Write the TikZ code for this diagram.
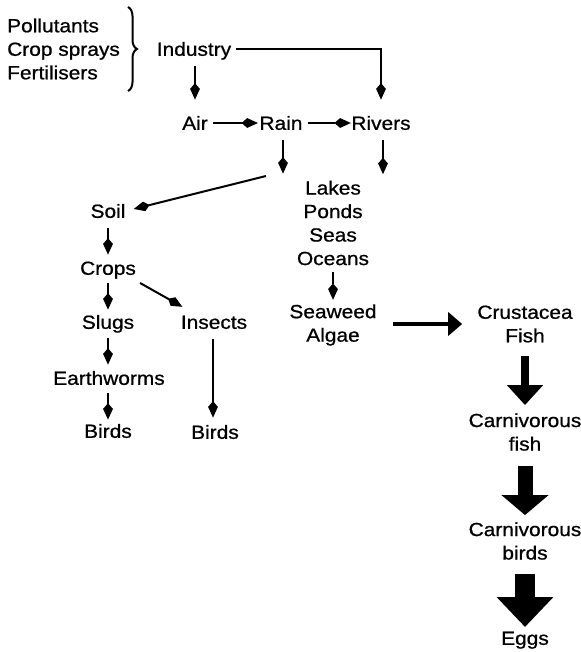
\documentclass[tikz,border=0pt]{standalone}
\usepackage{fontspec}
\setmainfont{Liberation Sans}[FakeStretch=1.1,FakeBold=0.8]
\usetikzlibrary{arrows.meta,decorations.pathreplacing,calc}
\begin{document}
\begin{tikzpicture}[x=1pt,y=-1pt,
  lbl/.style={inner sep=0pt, text height=13.6pt, text depth=0pt, font=\fontsize{19}{23.5}\selectfont},
  blk/.style={inner sep=0pt, align=center, font=\fontsize{19}{23.5}\selectfont},
  thinarr/.style={line width=2pt, -{Stealth[length=11pt,width=8.5pt,inset=-6pt]}},
  bigarr/.style args={#1/#2/#3}{line width=#1, -{Triangle[length=#3,width=#2]}}
]
\useasboundingbox (0,0) rectangle (580,652);

% nodes
\node[blk, align=left, anchor=west] (src) at (7,49) {Pollutants\\Crop sprays\\Fertilisers};
\coordinate (bt) at (128,7);
\coordinate (bb) at (128,91);
\node[lbl] (ind) at (194,49) {Industry};
\node[lbl] (air) at (195,123) {Air};
\node[lbl] (rain) at (281,123) {Rain};
\node[lbl] (riv) at (381,123) {Rivers};
\node[blk] (lakes) at (333,223) {Lakes\\Ponds\\Seas\\Oceans};
\node[blk] (sea) at (333,325) {Seaweed\\Algae};
\node[lbl] (soil) at (108,211) {Soil};
\node[lbl] (crops) at (108,268) {Crops};
\node[lbl] (slugs) at (108,322) {Slugs};
\node[lbl] (ins) at (214,322) {Insects};
\node[lbl] (worms) at (109,378) {Earthworms};
\node[lbl] (b1) at (108,431) {Birds};
\node[lbl] (b2) at (215,432) {Birds};
\node[blk] (crus) at (525,324) {Crustacea\\Fish};
\node[blk] (cfish) at (525,432) {Carnivorous\\fish};
\node[blk] (cbirds) at (525,541) {Carnivorous\\birds};
\node[lbl] (eggs) at (525,638) {Eggs};
\coordinate (rd) at (283,174);
\coordinate (rs) at (266,176);

% brace
\draw[line width=2pt, decorate, decoration={brace, amplitude=9pt}] (bt) -- (bb);

% thin connectors
\draw[thinarr, shorten <=10pt, shorten >=16pt] (air.north |- ind.south) -- (air.north);
\draw[thinarr, shorten <=5pt, shorten >=16pt] (ind.east) -| (riv.north);
\draw[thinarr, shorten <=5pt, shorten >=1pt] (air.east) -- (rain.west);
\draw[thinarr, shorten <=5pt, shorten >=0pt] (rain.east) -- (riv.west);
\draw[thinarr, shorten <=10pt] (rain.south -| rd) -- (rd);
\draw[thinarr, shorten <=10pt, shorten >=6pt] ([xshift=2pt]riv.south) -- ([xshift=2pt]riv.south |- lakes.north);
\draw[thinarr, shorten >=8pt] (rs) -- (soil.east);
\draw[thinarr, shorten <=10pt, shorten >=6pt] (soil.south) -- (crops.north);
\draw[thinarr, shorten <=8pt, shorten >=5pt] (crops.south) -- (slugs.north);
\draw[thinarr] ($(crops.south east)+(4,8)$) -- ($(ins.north west)+(2,-8)$);
\draw[thinarr, shorten <=9pt, shorten >=6pt] (slugs.south) -- (slugs.south |- worms.north);
\draw[thinarr, shorten <=8pt, shorten >=4pt] (b1.north |- worms.south) -- (b1.north);
\draw[thinarr, shorten <=10pt, shorten >=7pt] ([xshift=-1pt]ins.south) -- ([xshift=-1pt]ins.south |- b2.north);
\draw[thinarr, shorten <=7pt, shorten >=4pt] (lakes.south) -- (sea.north);

% thick arrows
\draw[bigarr=4pt/23pt/14pt, shorten <=16pt, shorten >=15pt] (sea.east |- crus.west) -- (crus.west);
\draw[bigarr=8pt/35pt/20pt, shorten <=13pt, shorten >=8pt] (crus.south) -- (cfish.north);
\draw[bigarr=15pt/46pt/20pt, shorten <=15pt, shorten >=7pt] (cfish.south) -- (cbirds.north);
\draw[bigarr=20pt/55pt/30pt, shorten <=14pt, shorten >=4pt] (cbirds.south) -- (eggs.north);
\end{tikzpicture}
\end{document}
